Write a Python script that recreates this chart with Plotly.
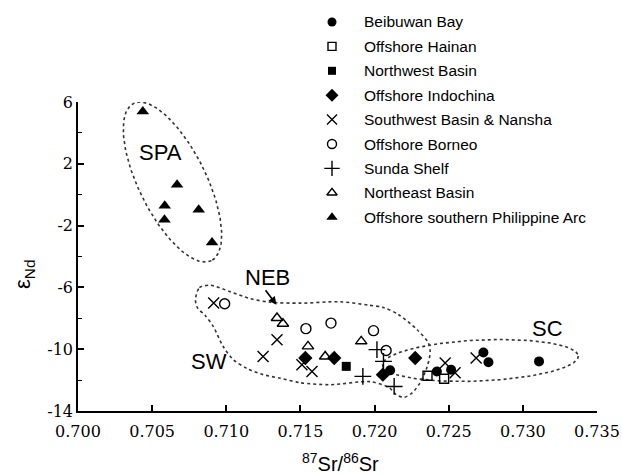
import numpy as np
import plotly.graph_objects as go

# ---------------- data ----------------
series_names = ["Beibuwan Bay", "Offshore Hainan", "Northwest Basin", "Offshore Indochina",
                "Southwest Basin & Nansha", "Offshore Borneo", "Sunda Shelf",
                "Northeast Basin", "Offshore southern Philippine Arc"]

beibuwan_sr = [0.72105, 0.72420, 0.72516, 0.72734, 0.72768, 0.73109]
beibuwan_nd = [-11.37, -11.44, -11.33, -10.21, -10.85, -10.79]

hainan_sr = [0.72357, 0.72469]
hainan_nd = [-11.72, -11.91]

northwest_sr = [0.71809]
northwest_nd = [-11.11]

indochina_sr = [0.71533, 0.71728, 0.72056, 0.72274]
indochina_nd = [-10.57, -10.57, -11.65, -10.57]

southwest_sr = [0.70915, 0.71342, 0.71248, 0.71510, 0.71578, 0.72476, 0.72543, 0.72685]
southwest_nd = [-7.01, -9.39, -10.47, -11.00, -11.44, -10.89, -11.52, -10.57]

borneo_sr = [0.70989, 0.71537, 0.71706, 0.71993, 0.72078]
borneo_nd = [-7.06, -8.67, -8.31, -8.80, -10.08]

sunda_sr = [0.72016, 0.72060, 0.71921, 0.72132]
sunda_nd = [-10.03, -10.79, -11.76, -12.41]

northeast_sr = [0.71342, 0.71382, 0.71551, 0.71667, 0.71910]
northeast_nd = [-7.98, -8.35, -9.82, -10.47, -9.49]

spa_sr = [0.70437, 0.70668, 0.70585, 0.70814, 0.70583, 0.70904]
spa_nd = [5.39, 0.65, -0.71, -0.97, -1.62, -3.09]

# hand-drawn outline of the SW field (data coordinates)
sw_outline_sr = [0.70792, 0.70819, 0.70893, 0.71027, 0.71162, 0.71297, 0.71499, 0.71769,
                 0.71960, 0.72060, 0.72160, 0.72287, 0.72362, 0.72375, 0.72355, 0.72307,
                 0.72254, 0.72200, 0.72146, 0.72099, 0.71971, 0.71701, 0.71499, 0.71364,
                 0.71250, 0.71142, 0.71048, 0.70980, 0.70913, 0.70859, 0.70805, 0.70792]
sw_outline_nd = [-6.80, -6.02, -5.86, -6.28, -6.73, -6.96, -7.02, -6.93,
                 -7.15, -7.30, -7.75, -8.74, -9.58, -10.16, -11.13, -12.17,
                 -12.82, -13.11, -12.94, -12.49, -12.10, -12.30, -12.17, -11.88,
                 -11.65, -11.26, -10.68, -9.84, -8.54, -7.83, -7.31, -6.80]

x_ticks = [0.700, 0.705, 0.710, 0.715, 0.720, 0.725, 0.730, 0.735]
x_tick_labels = ["0.700", "0.705", "0.710", "0.715", "0.720", "0.725", "0.730", "0.735"]
y_ticks = [6, 2, -2, -6, -10, -14]
y_tick_labels = ["6", "2", "-2", "-6", "-10", "-14"]

# ---------------- layout constants ----------------
W, H = 622, 474
ML, MR, MT, MB = 78, 25, 102, 63
PW, PH = W - ML - MR, H - MT - MB
XR = [0.700, 0.735]
YR = [-14, 6]
kx = PW / (XR[1] - XR[0])
ky = PH / (YR[1] - YR[0])

BLACK = "#000000"
SANS = "Liberation Sans, Arial, sans-serif"
SERIF = "DejaVu Serif, serif"


def ellipse(cx, cy, a_px, b_px, ang_deg, n=160):
    t = np.linspace(0, 2 * np.pi, n)
    p = np.deg2rad(ang_deg)
    dx = a_px * np.cos(t) * np.cos(p) - b_px * np.sin(t) * np.sin(p)
    dy = a_px * np.cos(t) * np.sin(p) + b_px * np.sin(t) * np.cos(p)
    return cx + dx / kx, cy - dy / ky


fig = go.Figure()

outline_style = dict(color="#333333", width=1.6, dash="dot")

ex, ey = ellipse(0.70637, 0.82, 87.7, 33.7, 63.7)
fig.add_trace(go.Scatter(x=ex, y=ey, mode="lines", line=outline_style,
                         hoverinfo="skip", showlegend=False))
ex, ey = ellipse(0.72714, -10.73, 98, 20.5, -2.6)
fig.add_trace(go.Scatter(x=ex, y=ey, mode="lines", line=outline_style,
                         hoverinfo="skip", showlegend=False))
fig.add_trace(go.Scatter(x=sw_outline_sr, y=sw_outline_nd, mode="lines",
                         line=dict(outline_style, shape="spline", smoothing=0.8),
                         hoverinfo="skip", showlegend=False))

styles = [
    dict(symbol="circle", size=10, color=BLACK),
    dict(symbol="square-open", size=9, color=BLACK, line=dict(width=1.4, color=BLACK)),
    dict(symbol="square", size=9, color=BLACK),
    dict(symbol="diamond", size=11, color=BLACK),
    dict(symbol="x-thin-open", size=11, color=BLACK, line=dict(width=1.4, color=BLACK)),
    dict(symbol="circle-open", size=10, color=BLACK, line=dict(width=1.4, color=BLACK)),
    dict(symbol="cross-thin-open", size=12, color=BLACK, line=dict(width=1.4, color=BLACK)),
    dict(symbol="triangle-up-open", size=10, color=BLACK, line=dict(width=1.4, color=BLACK)),
    dict(symbol="triangle-up", size=11, color=BLACK),
]
xs = [beibuwan_sr, hainan_sr, northwest_sr, indochina_sr, southwest_sr, borneo_sr,
      sunda_sr, northeast_sr, spa_sr]
ys = [beibuwan_nd, hainan_nd, northwest_nd, indochina_nd, southwest_nd, borneo_nd,
      sunda_nd, northeast_nd, spa_nd]

for name, x, y, st in zip(series_names, xs, ys, styles):
    fig.add_trace(go.Scatter(x=x, y=y, mode="markers", name=name, marker=st,
                             showlegend=False))


def paper(px, py):
    return px / W, 1 - py / H


# ---------- hand-built legend (on a hidden full-figure pixel axis) ----------
LEG_SYM_X = 332
LEG_TXT_X = 362
LEG_Y0 = 22
LEG_DY = 24.4
for i, (name, st) in enumerate(zip(series_names, styles)):
    yy = LEG_Y0 + i * LEG_DY
    st2 = dict(st)
    st2["size"] = st["size"] - 1
    fig.add_trace(go.Scatter(x=[LEG_SYM_X], y=[yy], mode="markers", marker=st2,
                             xaxis="x2", yaxis="y2", cliponaxis=False,
                             showlegend=False, hoverinfo="skip"))
    px_, py_ = paper(LEG_TXT_X, yy)
    fig.add_annotation(x=px_, y=py_, xref="paper", yref="paper", text=name,
                       showarrow=False, xanchor="left", yanchor="middle",
                       font=dict(family=SANS, size=15.5, color=BLACK))

# ---------- field labels ----------
lab_font = dict(family=SANS, size=22, color=BLACK)
fig.add_annotation(x=0.70556, y=2.70, text="SPA", showarrow=False, font=lab_font)
fig.add_annotation(x=0.71281, y=-5.33, text="NEB", showarrow=False, font=lab_font)
fig.add_annotation(x=0.70881, y=-10.79, text="SW", showarrow=False, font=lab_font)
fig.add_annotation(x=0.73165, y=-8.69, text="SC", showarrow=False, font=lab_font)
fig.add_annotation(x=0.71338, y=-7.12, ax=-12, ay=-16, text="", showarrow=True,
                   arrowhead=2, arrowsize=1, arrowwidth=1.6, arrowcolor=BLACK,
                   standoff=0, startstandoff=0)

# ---------- axis titles ----------
tx, ty = paper(340, 477)
fig.add_annotation(x=tx, y=ty, xref="paper", yref="paper", yanchor="bottom",
                   text="<sup>87</sup>Sr/<sup>86</sup>Sr", showarrow=False,
                   font=dict(family=SANS, size=20, color=BLACK))
tx, ty = paper(8, 274)
fig.add_annotation(x=tx, y=ty, xref="paper", yref="paper", text="ε<sub>Nd</sub>",
                   showarrow=False, textangle=-90,
                   font=dict(family=SANS, size=22, color=BLACK))

fig.update_layout(
    width=W, height=H,
    margin=dict(l=0, r=0, t=0, b=0, pad=0, autoexpand=False),
    paper_bgcolor="white", plot_bgcolor="rgba(0,0,0,0)",
    showlegend=False,
    xaxis=dict(domain=[ML / W, (W - MR) / W], anchor="y", range=XR, automargin=False,
               tickvals=x_ticks, ticktext=x_tick_labels, ticklabelstandoff=5,
               showgrid=False, zeroline=False, showline=True, linecolor=BLACK,
               linewidth=1.5, ticks="inside", ticklen=6, tickwidth=1.5,
               tickcolor=BLACK, tickfont=dict(family=SERIF, size=16, color=BLACK)),
    yaxis=dict(domain=[MB / H, (H - MT) / H], anchor="x", range=YR, automargin=False,
               tickvals=y_ticks, ticktext=y_tick_labels,
               showgrid=False, zeroline=False, showline=True, linecolor=BLACK,
               linewidth=1.5, ticks="inside", ticklen=6, tickwidth=1.5,
               tickcolor=BLACK, tickfont=dict(family=SERIF, size=16, color=BLACK),
               minor=dict(tickvals=[4, 0, -4, -8, -12], ticks="inside", ticklen=4,
                          tickwidth=1.2, tickcolor=BLACK, showgrid=False)),
    xaxis2=dict(domain=[0, 1], anchor="y2", range=[0, W], visible=False,
                fixedrange=True, automargin=False),
    yaxis2=dict(domain=[0, 1], anchor="x2", range=[H, 0], visible=False,
                fixedrange=True, automargin=False),
)

fig.write_html("out.html", config={"displayModeBar": False},
               post_script="document.body.style.margin='0';"
                           "document.body.style.overflow='hidden';")
